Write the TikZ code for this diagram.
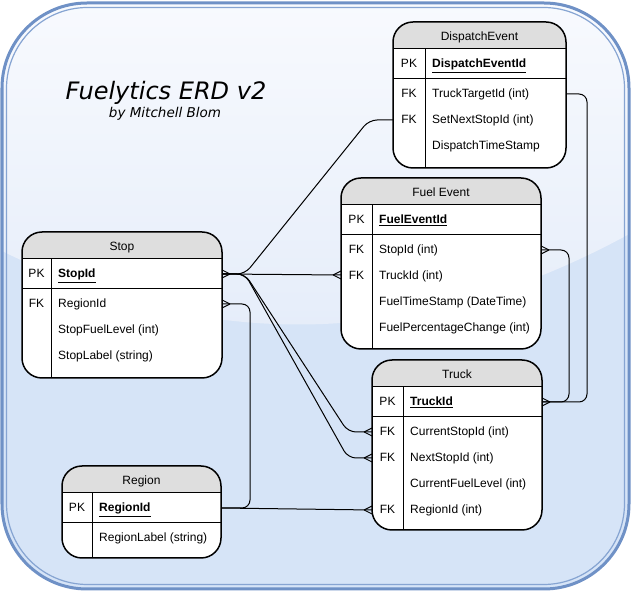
\documentclass[tikz,border=0pt]{standalone}
\usepackage{fontspec}
\setmainfont{Liberation Sans}
\newfontfamily\ttlfont{DejaVu Sans}
\usetikzlibrary{calc}
\definecolor{bordblue}{HTML}{6F91C6}
\definecolor{innerblue}{HTML}{86A4D2}
\definecolor{botblue}{HTML}{D6E4F7}
\definecolor{topwhite}{HTML}{F8FAFE}
\definecolor{glossblue}{HTML}{E4ECF9}
\definecolor{hdrgray}{HTML}{DEDEDE}
\tikzset{
 tblbox/.style={draw=black, line width=1.5pt, rounded corners=20pt, fill=white, inner sep=0pt, outer sep=0pt},
 tblline/.style={draw=black, line width=1pt},
 conn/.style={draw=black, line width=1pt, rounded corners=8pt},
 crowline/.style={draw=black, line width=0.9pt},
 ftxt/.style={inner sep=0pt, font=\fontsize{12}{14}\selectfont, anchor=base west},
 ktxt/.style={inner sep=0pt, font=\fontsize{12}{14}\selectfont, anchor=base},
}
% name, x, y, width, height, key width, title
\newcommand\ertbl[7]{%
 \node[tblbox, minimum width=#4pt, minimum height=#5pt, anchor=north west,
   path picture={\fill[hdrgray, sharp corners] (path picture bounding box.north west) rectangle ([yshift=-27pt]path picture bounding box.north east);}] (#1) at (#2,#3) {};
 \draw[tblline] ([yshift=-27pt]#1.north west) -- ([yshift=-27pt]#1.north east);
 \draw[tblline] ([yshift=-57pt]#1.north west) -- ([yshift=-57pt]#1.north east);
 \draw[tblline] ([xshift=#6pt,yshift=-27pt]#1.north west) -- ([xshift=#6pt]#1.south west);
 \node[ktxt] (#1-title) at ([yshift=-19pt]#1.north) {#7};
}
\newcommand\crowR[1]{\draw[crowline] ($(#1)+(8,0)$) -- ($(#1)+(0,-4)$) ($(#1)+(8,0)$) -- ($(#1)+(0,4)$);}
\newcommand\crowL[1]{\draw[crowline] ($(#1)+(-8,0)$) -- ($(#1)+(0,-4)$) ($(#1)+(-8,0)$) -- ($(#1)+(0,4)$);}
\begin{document}
\begin{tikzpicture}[x=1pt,y=-1pt]
\path[use as bounding box] (0,0) rectangle (633,593);
% background
\fill[botblue, rounded corners=85pt] (2,3) rectangle (629,589);
\begin{scope}
 \clip[rounded corners=85pt] (2,3) rectangle (629,589);
 \shade[top color=topwhite, bottom color=glossblue] (0,0) -- (0,250) .. controls (210,355) and (421,349) .. (633,232) -- (633,0) -- cycle;
\end{scope}
\draw[bordblue, line width=3pt, rounded corners=85pt] (2,3) rectangle (629,589);
\draw[innerblue, line width=1.2pt, rounded corners=81pt] (6.5,7.5) rectangle (624.5,584.5);

% title
\node[inner sep=0pt, anchor=base] (title) at (166,100) {\ttlfont\itshape\fontsize{24}{28}\selectfont Fuelytics ERD v2};
\node[inner sep=0pt, anchor=base] (author) at (165,118) {\ttlfont\itshape\fontsize{13.5}{16}\selectfont by Mitchell Blom};

% tables
\ertbl{stop}{22}{232}{200}{146}{29}{Stop}
\node[ktxt] (stop-k0) at (36.5,278) {PK};
\node[ftxt] (stop-f0) at (58,278) {\textbf{\underline{StopId}}};
\node[ktxt] (stop-k1) at (36.5,308) {FK};
\node[ftxt] (stop-f1) at (58,308) {RegionId};
\node[ftxt] (stop-f2) at (58,334) {StopFuelLevel (int)};
\node[ftxt] (stop-f3) at (58,360) {StopLabel (string)};

\ertbl{region}{62}{466}{159}{92}{30}{Region}
\node[ktxt] (region-k0) at (77,512) {PK};
\node[ftxt] (region-f0) at (99,512) {\textbf{\underline{RegionId}}};
\node[ftxt] (region-f1) at (99,542) {RegionLabel (string)};

\ertbl{disp}{393}{22}{173}{146}{32}{DispatchEvent}
\node[ktxt] (disp-k0) at (409,68) {PK};
\node[ftxt] (disp-f0) at (432,68) {\textbf{\underline{DispatchEventId}}};
\node[ktxt] (disp-k1) at (409,98) {FK};
\node[ftxt] (disp-f1) at (432,98) {TruckTargetId (int)};
\node[ktxt] (disp-k2) at (409,124) {FK};
\node[ftxt] (disp-f2) at (432,124) {SetNextStopId (int)};
\node[ftxt] (disp-f3) at (432,150) {DispatchTimeStamp};

\ertbl{fuel}{341}{178}{200}{171}{31}{Fuel Event}
\node[ktxt] (fuel-k0) at (356.5,224) {PK};
\node[ftxt] (fuel-f0) at (379,224) {\textbf{\underline{FuelEventId}}};
\node[ktxt] (fuel-k1) at (356.5,254) {FK};
\node[ftxt] (fuel-f1) at (379,254) {StopId (int)};
\node[ktxt] (fuel-k2) at (356.5,280) {FK};
\node[ftxt] (fuel-f2) at (379,280) {TruckId (int)};
\node[ftxt] (fuel-f3) at (379,306) {FuelTimeStamp (DateTime)};
\node[ftxt] (fuel-f4) at (379,332) {FuelPercentageChange (int)};

\ertbl{truck}{372}{360}{170}{170}{31}{Truck}
\node[ktxt] (truck-k0) at (387.5,406) {PK};
\node[ftxt] (truck-f0) at (410,406) {\textbf{\underline{TruckId}}};
\node[ktxt] (truck-k1) at (387.5,436) {FK};
\node[ftxt] (truck-f1) at (410,436) {CurrentStopId (int)};
\node[ktxt] (truck-k2) at (387.5,462) {FK};
\node[ftxt] (truck-f2) at (410,462) {NextStopId (int)};
\node[ftxt] (truck-f3) at (410,488) {CurrentFuelLevel (int)};
\node[ktxt] (truck-k4) at (387.5,514) {FK};
\node[ftxt] (truck-f4) at (410,514) {RegionId (int)};

% connector end points
\coordinate (stopPKe) at (222,274);
\coordinate (stopRGe) at (222,304);
\coordinate (regPKe) at (221,508);
\coordinate (dispTTe) at (566,94);
\coordinate (dispSNw) at (393,120);
\coordinate (fuelSTe) at (541,250);
\coordinate (fuelTRw) at (341,275);
\coordinate (truckPKe) at (542,402);
\coordinate (truckCSw) at (372,432);
\coordinate (truckNSw) at (372,458);
\coordinate (truckRGw) at (372,510);
\coordinate (jstop) at (245,274);

% connectors
\draw[conn] (stopPKe) -- (jstop) -- (369,120) -- (dispSNw);
\draw[conn] (stopPKe) -- (fuelTRw);
\draw[conn] (stopPKe) -- (jstop) -- (348,432) -- (truckCSw);
\draw[conn] (stopPKe) -- (jstop) -- (348,458) -- (truckNSw);
\draw[conn] (stopRGe) -- (250,304) -- (250,508) -- (regPKe);
\draw[conn] (regPKe) -- (truckRGw);
\draw[conn] (fuelSTe) -- (569,250) -- (569,402) -- (truckPKe);
\draw[conn] (dispTTe) -- (587,94) -- (587,402) -- (truckPKe);

% crow's feet
\crowR{stopPKe}
\crowR{stopRGe}
\crowR{fuelSTe}
\crowR{truckPKe}
\crowL{fuelTRw}
\crowL{truckCSw}
\crowL{truckNSw}
\crowL{truckRGw}
\end{tikzpicture}
\end{document}
